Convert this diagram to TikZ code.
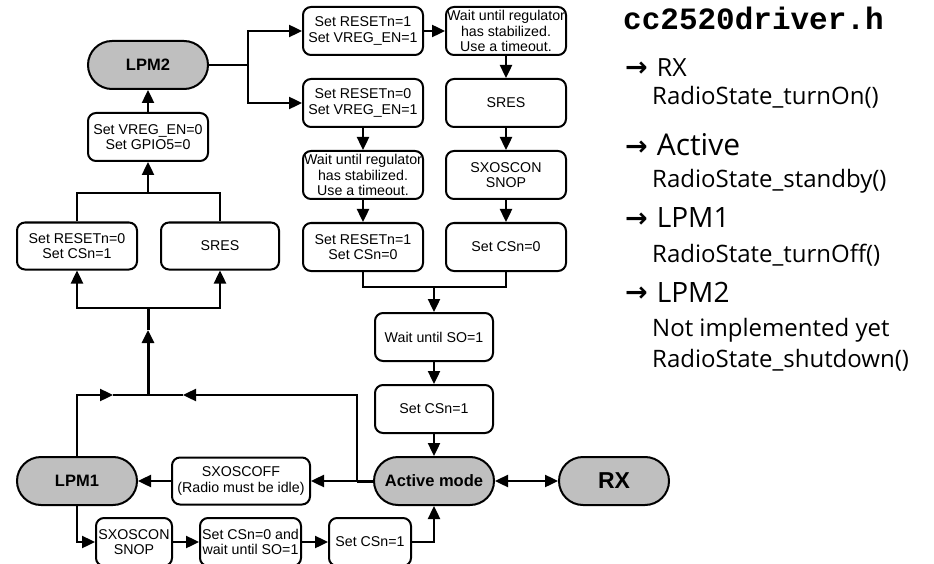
\documentclass[tikz,border=0pt]{standalone}
\usepackage{fontspec}
\setmainfont{Liberation Sans}
\setmonofont{Liberation Mono}
\newfontfamily\notefont{Open Sans}
\newfontfamily\arrowfont{DejaVu Sans}
\usetikzlibrary{arrows.meta}
\definecolor{stategray}{gray}{0.75}
\newcommand{\boxsize}{\fontsize{14.2}{15.5}\selectfont}
\newcommand{\goto}[2]{\raisebox{0.5pt}{\arrowfont\bfseries\fontsize{27}{27}\selectfont →}\hskip 9pt{\fontsize{#1}{#1}\selectfont #2}}

\begin{document}
\begin{tikzpicture}[x=1pt, y=-1pt, node distance=72pt,
    stepbox/.style={draw, line width=2pt, rounded corners=8pt, minimum width=120pt,
      minimum height=48pt, inner sep=0.5pt, align=center, font=\boxsize},
    statebox/.style={draw, line width=2pt, rounded corners=24pt, fill=stategray,
      minimum width=120pt, minimum height=48pt, font=\bfseries\fontsize{16.5}{16.5}\selectfont},
    wire/.style={line width=2.4pt},
    arr/.style={wire, -{Triangle[length=13pt,width=12pt]}},
    note/.style={anchor=base west, inner sep=0pt, font=\notefont\fontsize{24}{24}\selectfont}]
    \clip (0,0) rectangle (934,564);

    % 状態
    \node[statebox] (lpm2) at (148,65) {LPM2};
    \node[statebox] (lpm1) at (77,481) {LPM1};
    \node[statebox] (active) at (434,481) {Active mode};
    \node[statebox, minimum width=110pt, font=\bfseries\fontsize{23}{23}\selectfont] (rx) at (614,481) {RX};

    % LPM2 へ
    \node[stepbox, below of=lpm2] (vregoff) {Set VREG\_EN=0\\Set GPIO5=0};
    \node[stepbox, minimum height=47pt] (rstlow) at (77,246) {Set RESETn=0\\Set CSn=1};
    \node[stepbox, minimum width=118pt, minimum height=47pt] (sresl) at (220,246) {SRES};

    % LPM2 から Active へ
    \node[stepbox] (rsthi) at (363,31) {Set RESETn=1\\Set VREG\_EN=1};
    \node[stepbox, below of=rsthi] (rstlo) {Set RESETn=0\\Set VREG\_EN=1};
    \node[stepbox, below of=rstlo] (waitl) {Wait until regulator\\has stabilized.\\Use a timeout.};
    \node[stepbox, below of=waitl] (csnlow) {Set RESETn=1\\Set CSn=0};
    \node[stepbox] (waitr) at (506,31) {Wait until regulator\\has stabilized.\\Use a timeout.};
    \node[stepbox, below of=waitr] (sresr) {SRES};
    \node[stepbox, below of=sresr] (xoscr) {SXOSCON\\SNOP};
    \node[stepbox, below of=xoscr] (csnr) {Set CSn=0};
    \node[stepbox, minimum width=118pt] (waitso) at (434,337) {Wait until SO=1};
    \node[stepbox, minimum width=118pt, below of=waitso] (csnhi) {Set CSn=1};

    % LPM1 と Active
    \node[stepbox, minimum width=138pt, minimum height=47pt] (xoscoff) at (241,481) {SXOSCOFF\\(Radio must be idle)};
    \node[stepbox, minimum width=76pt] (xoscb) at (134,542) {SXOSCON\\SNOP};
    \node[stepbox, minimum width=101pt] (waitb) at (250.5,542) {Set CSn=0 and\\wait until SO=1};
    \node[stepbox, minimum width=82pt] (csnb) at (370,542) {Set CSn=1};

    % 分岐・合流点
    \coordinate (fork) at (248,65);
    \coordinate (merge) at (434,287);
    \coordinate (tap) at (357,481);
    \coordinate (rtip) at (183,395);
    \coordinate (ltip) at (113,395);
    \coordinate (jlow) at (148,395);
    \coordinate (utip) at (148,330);
    \coordinate (jmid) at (148,308);
    \coordinate (jtop) at (148,193);

    % 矢印
    \draw[wire] (lpm2.east) -- (fork);
    \draw[arr] (fork) |- (rsthi.west);
    \draw[arr] (fork) |- (rstlo.west);
    \draw[arr] (rsthi) -- (waitr);
    \draw[arr] (waitr) -- (sresr);
    \draw[arr] (sresr) -- (xoscr);
    \draw[arr] (xoscr) -- (csnr);
    \draw[arr] (rstlo) -- (waitl);
    \draw[arr] (waitl) -- (csnlow);
    \draw[wire] (csnlow.south) |- (merge) -| (csnr.south);
    \draw[arr] (merge) -- (waitso);
    \draw[arr] (waitso) -- (csnhi);
    \draw[arr] (csnhi) -- (active);
    \draw[wire, {Triangle[length=13pt,width=12pt]}-{Triangle[length=13pt,width=12pt]}] (active) -- (rx);

    \draw[arr] (active) -- (xoscoff);
    \draw[arr] (xoscoff) -- (lpm1);
    \draw[wire, line width=3pt] (active.west) -- (tap);
    \draw[arr] (tap) |- (rtip);
    \draw[wire] (rtip) -- (jlow);
    \draw[arr] (lpm1.north) |- (ltip);
    \draw[wire] (ltip) -- (jlow);
    \draw[arr, line width=3pt] (jlow) -- (utip);
    \draw[wire, line width=3pt] (utip) -- (jmid);
    \draw[arr] (jmid) -| (rstlow.south);
    \draw[arr] (jmid) -| (sresl.south);
    \draw[wire] (rstlow.north) |- (jtop) -| (sresl.north);
    \draw[arr] (jtop) -- (vregoff);
    \draw[arr] (vregoff) -- (lpm2);

    \draw[arr] (lpm1.south) |- (xoscb.west);
    \draw[arr] (xoscb) -- (waitb);
    \draw[arr] (waitb) -- (csnb);
    \draw[arr] (csnb.east) -| (active.south);

    % 関数の一覧
    \node[anchor=base west, inner sep=0pt, font=\ttfamily\bfseries\fontsize{31}{31}\selectfont] (hdr) at (623,30) {cc2520driver.h};
    \node[note] (torx) at (625,77) {\goto{25}{RX}};
    \node[note] (fnon) at (652,105) {RadioState\_turnOn()};
    \node[note] (toact) at (625,156) {\goto{30}{Active}};
    \node[note] (fnstby) at (652,188) {RadioState\_standby()};
    \node[note] (tolpm1) at (625,228) {\goto{28}{LPM1}};
    \node[note] (fnoff) at (652,262) {RadioState\_turnOff()};
    \node[note] (tolpm2) at (625,302) {\goto{28}{LPM2}};
    \node[note] (nyet) at (652,336) {Not implemented yet};
    \node[note] (fnshut) at (652,367) {RadioState\_shutdown()};
\end{tikzpicture}
\end{document}
